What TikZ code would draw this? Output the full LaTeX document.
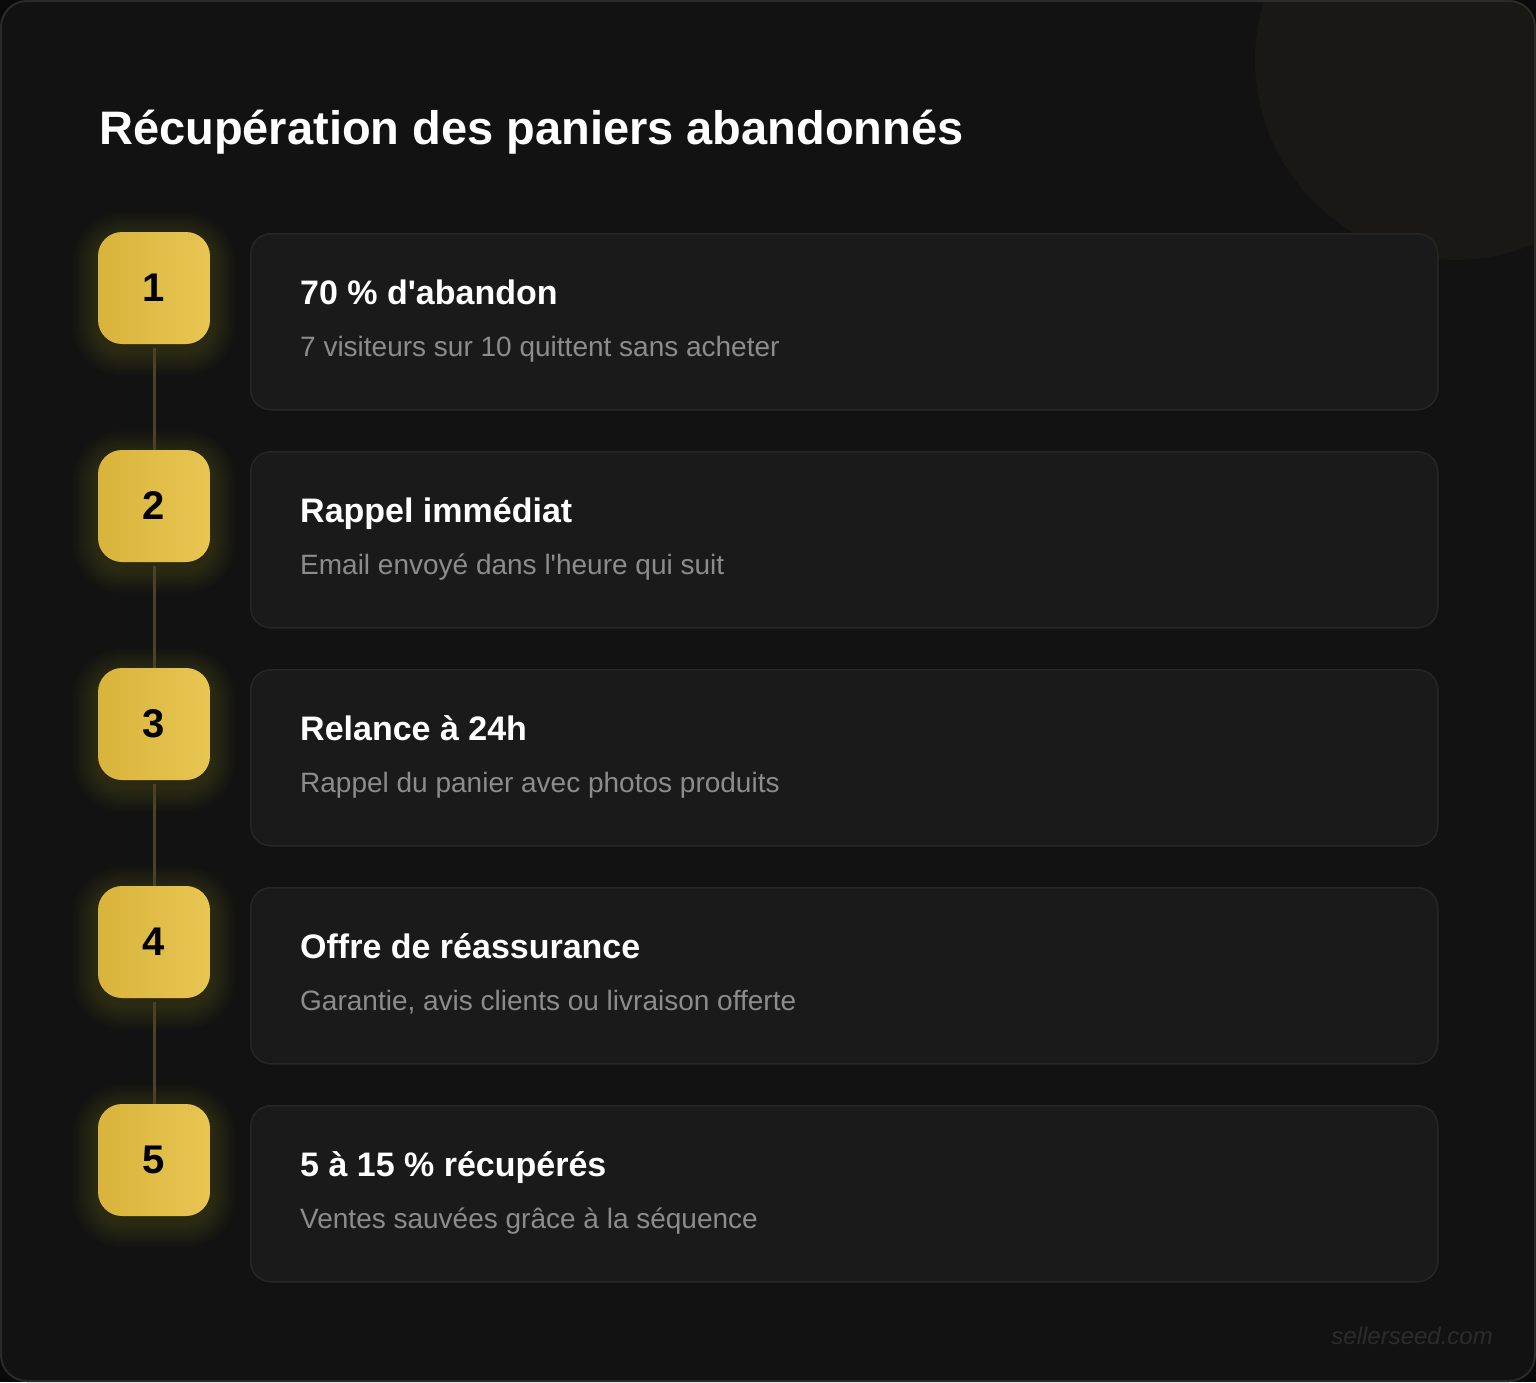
\documentclass[tikz,border=0pt]{standalone}
\usepackage{fontspec}
\setmainfont{Liberation Sans}[Ligatures=TeXOff]
\definecolor{outerc}{HTML}{0A0A0A}
\definecolor{bgc}{HTML}{121212}
\definecolor{framec}{HTML}{2A2A2A}
\definecolor{cardc}{HTML}{1A1A1A}
\definecolor{cardline}{HTML}{262626}
\definecolor{decoc}{HTML}{1A1814}
\definecolor{subc}{HTML}{8C8C8C}
\definecolor{connc}{HTML}{4A4127}
\definecolor{goldA}{HTML}{D8B43C}
\definecolor{goldB}{HTML}{E8C652}
\definecolor{glowc}{HTML}{C9A83E}
\definecolor{wmc}{HTML}{2C2C2C}
\begin{document}
\begin{tikzpicture}[x=1pt,y=-1pt,
  numbox/.style={minimum width=112pt, minimum height=112pt, inner sep=0pt,
    rounded corners=24pt, left color=goldA, right color=goldB,
    font=\fontsize{40}{48}\selectfont\bfseries, text=black},
  card/.style={minimum width=1187pt, minimum height=176pt, inner sep=0pt,
    rounded corners=20pt, fill=cardc, draw=cardline, line width=1.5pt, anchor=north west},
  ctitle/.style={anchor=base west, inner sep=0pt, text=white,
    font=\fontsize{34}{40}\selectfont\bfseries},
  csub/.style={anchor=base west, inner sep=0pt, text=subc,
    font=\fontsize{28}{34}\selectfont},
  conn/.style={draw=connc, line width=3pt, shorten <=4pt},
  glow/.style={fill=glowc, opacity=0.007}
]
\useasboundingbox (0,0) rectangle (1536,1382);
\fill[outerc] (0,0) rectangle (1536,1382);
\fill[bgc, rounded corners=26pt] (1,1) rectangle (1535,1381);
\begin{scope}
  \clip[rounded corners=26pt] (1,1) rectangle (1535,1381);
  \fill[decoc] (1455,60) circle (200pt);
\end{scope}
\draw[framec, line width=2pt, rounded corners=26pt] (1,1) rectangle (1535,1381);

\node[anchor=base west, inner sep=0pt, text=white,
  font=\fontsize{47}{56}\selectfont\bfseries] (title) at (99,144)
  {Récupération des paniers abandonnés};

% glows
\foreach \i in {0,...,4}{
  \foreach \k in {1,...,26}{
    \fill[glow, rounded corners={24pt+\k pt}]
      (98-\k, 232+218*\i-\k+6) rectangle (210+\k, 344+218*\i+\k+6);
  }
}

% cards
\node[card] (c1) at (250,233) {};
\node[card] (c2) at (250,451) {};
\node[card] (c3) at (250,669) {};
\node[card] (c4) at (250,887) {};
\node[card] (c5) at (250,1105) {};

% number boxes
\node[numbox] (n1) at (154,288) {1};
\node[numbox] (n2) at (154,506) {2};
\node[numbox] (n3) at (154,724) {3};
\node[numbox] (n4) at (154,942) {4};
\node[numbox] (n5) at (154,1160) {5};

\draw[conn] (n1.south) -- (n2.north);
\draw[conn] (n2.south) -- (n3.north);
\draw[conn] (n3.south) -- (n4.north);
\draw[conn] (n4.south) -- (n5.north);

% texts
\node[ctitle] (t1) at (300,304) {70 \% d'abandon};
\node[csub] (s1) at (300,356) {7 visiteurs sur 10 quittent sans acheter};
\node[ctitle] (t2) at (300,522) {Rappel immédiat};
\node[csub] (s2) at (300,574) {Email envoyé dans l'heure qui suit};
\node[ctitle] (t3) at (300,740) {Relance à 24h};
\node[csub] (s3) at (300,792) {Rappel du panier avec photos produits};
\node[ctitle] (t4) at (300,958) {Offre de réassurance};
\node[csub] (s4) at (300,1010) {Garantie, avis clients ou livraison offerte};
\node[ctitle] (t5) at (300,1176) {5 à 15 \% récupérés};
\node[csub] (s5) at (300,1228) {Ventes sauvées grâce à la séquence};

\node[anchor=base east, inner sep=0pt, text=wmc,
  font=\fontsize{24}{28}\selectfont\itshape] (wm) at (1493,1344) {sellerseed.com};
\end{tikzpicture}
\end{document}
